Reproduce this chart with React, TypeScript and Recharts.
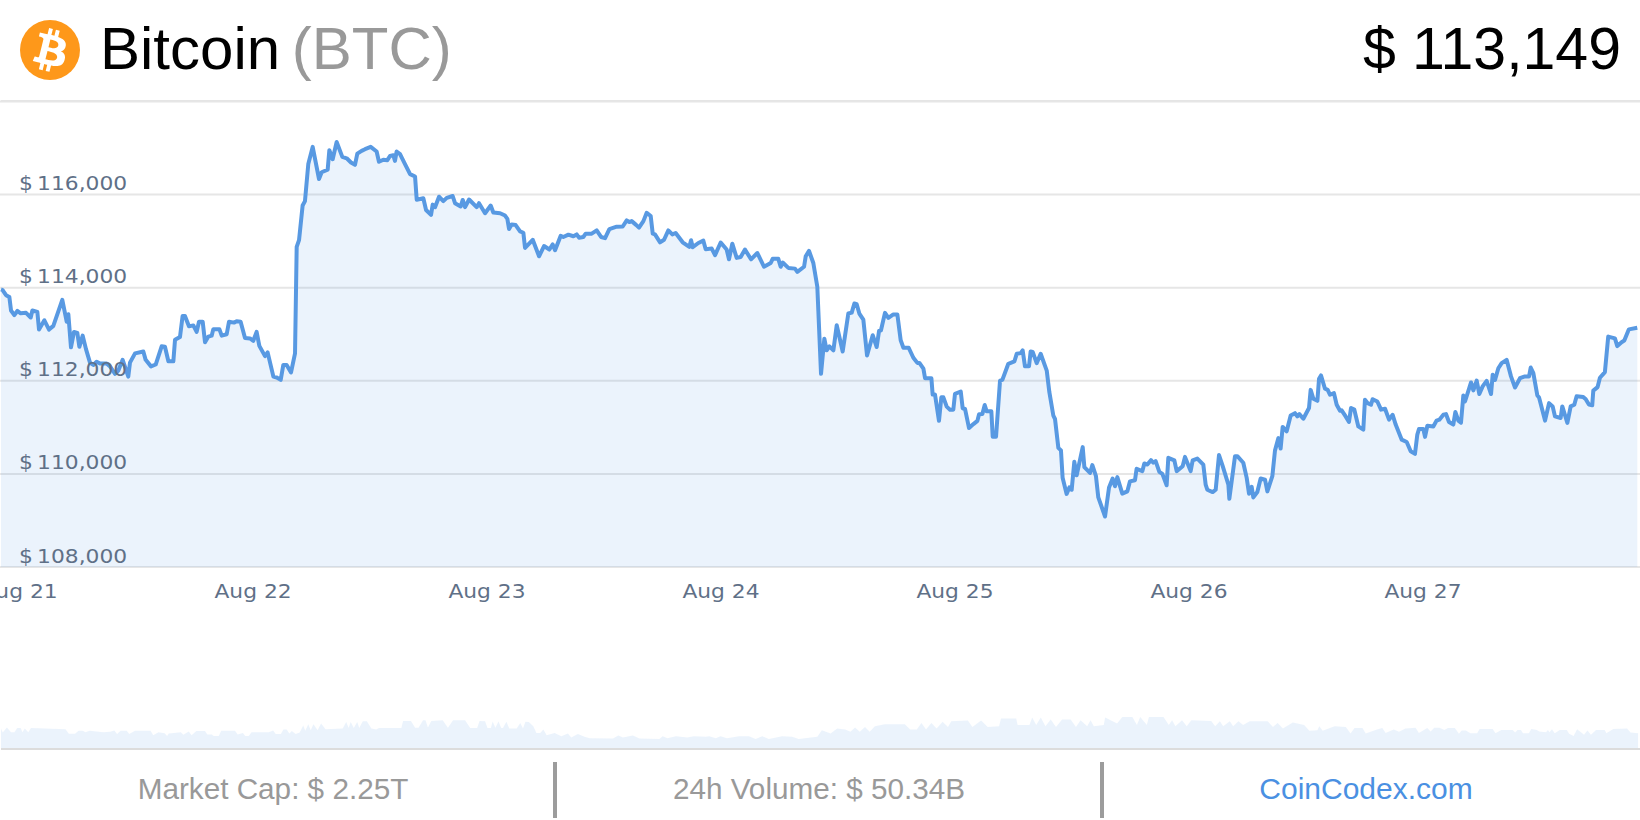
import React from "react";
import { Area, AreaChart, CartesianGrid, XAxis, YAxis } from "recharts";

// [hours since Aug 21 00:00, price in $]
const pricesAug21 = [
  [-1.85, 113963], [-1.68, 113950], [-1.33, 113840], [-0.99, 113800], [-0.82, 113510], [-0.48, 113410], [-0.17, 113500],
  [0.17, 113450], [0.72, 113460], [1.2, 113360], [1.37, 113510], [1.88, 113480], [2.05, 113100], [2.6, 113300],
  [3.08, 113100], [3.52, 113180], [4.44, 113740], [4.89, 113270], [5.06, 113430], [5.33, 112720], [5.64, 113050],
  [5.98, 113030], [6.19, 112730], [6.53, 112970], [6.87, 112680], [7.28, 112390], [7.62, 112340], [7.96, 112410],
  [8.31, 112370], [8.99, 112370], [9.33, 112310], [9.85, 112150], [10.19, 112220], [10.63, 112450], [11.21, 112090],
  [11.38, 112390], [11.9, 112590], [12.75, 112630], [12.99, 112450], [13.54, 112310], [14.02, 112350], [14.63, 112740],
  [14.97, 112730], [15.32, 112420], [15.83, 112420], [16.0, 112880], [16.51, 112940], [16.78, 113390], [17.02, 113390],
  [17.43, 113170], [17.88, 113190], [18.22, 113050], [18.46, 113270], [18.84, 113270], [19.08, 112830], [19.42, 112950],
  [19.76, 112970], [19.93, 113110], [20.55, 113110], [20.79, 112970], [21.3, 113000], [21.54, 113270], [22.05, 113250],
  [22.32, 113280], [22.73, 113270], [23.18, 112920], [23.69, 112910],
];

const pricesAug22 = [
  [24.03, 112860], [24.37, 113050], [24.65, 112750], [25.23, 112530], [25.5, 112610], [26.09, 112090], [26.43, 112070],
  [26.84, 112020], [27.11, 112340], [27.45, 112340], [27.9, 112180], [28.31, 112590], [28.48, 114875], [28.72, 115020],
  [29.09, 115765], [29.33, 115860], [29.67, 116655], [30.12, 117025], [30.77, 116335], [31.04, 116480], [31.66, 116535],
  [31.83, 116955], [32.17, 116760], [32.58, 117130], [33.16, 116810], [33.61, 116780], [34.05, 116690], [34.46, 116640],
  [34.7, 116880], [35.14, 116940], [35.49, 116975], [36.07, 117025], [36.68, 116925], [36.92, 116705], [37.37, 116750],
  [37.78, 116740], [38.05, 116830], [38.39, 116845], [38.56, 116725], [38.73, 116925], [39.08, 116870], [39.59, 116655],
  [40.11, 116440], [40.62, 116390], [40.79, 115890], [41.47, 115920], [41.75, 115670], [42.26, 115565], [42.43, 115785],
  [42.67, 115730], [43.08, 115955], [43.52, 115860], [43.87, 115930], [44.48, 115970], [44.72, 115815], [45.3, 115745],
  [45.51, 115885], [45.75, 115730], [46.16, 115895], [46.94, 115730], [47.18, 115815], [47.8, 115600],
];

const pricesAug23 = [
  [48.38, 115765], [48.65, 115615], [49.34, 115600], [49.85, 115550], [50.09, 115480], [50.26, 115260], [50.53, 115360],
  [50.94, 115345], [51.39, 115210], [51.73, 115180], [51.9, 114855], [52.69, 115030], [53.34, 114675], [53.85, 114895],
  [54.4, 114820], [54.74, 114930], [54.98, 114805], [55.56, 115115], [55.83, 115090], [56.35, 115140], [56.86, 115105],
  [57.2, 115145], [57.44, 115075], [57.88, 115090], [58.12, 115160], [58.74, 115160], [59.25, 115230], [59.7, 115090],
  [60.11, 115065], [60.55, 115260], [61.3, 115310], [61.92, 115315], [62.33, 115445], [62.6, 115410], [62.84, 115430],
  [63.29, 115350], [63.59, 115290], [64.04, 115430], [64.38, 115610], [64.79, 115540], [65.0, 115160], [65.23, 115145],
  [65.75, 114975], [66.16, 115030], [66.6, 115230], [67.01, 115145], [67.35, 115175], [68.07, 114975], [68.75, 114875],
  [68.93, 115020], [69.1, 114870], [69.68, 114960], [70.19, 115010], [70.43, 114825], [71.05, 114840], [71.39, 114700],
];

const pricesAug24 = [
  [71.97, 114970], [72.58, 114820], [72.82, 114610], [73.16, 114945], [73.61, 114640], [74.02, 114660], [74.46, 114820],
  [75.08, 114610], [75.73, 114745], [76.41, 114450], [77.1, 114530], [77.3, 114620], [77.88, 114620], [78.12, 114450],
  [78.33, 114540], [78.91, 114425], [79.59, 114410], [79.83, 114340], [80.52, 114450], [80.69, 114675], [81.03, 114790],
  [81.47, 114530], [81.88, 114020], [82.26, 112150], [82.6, 112905], [82.84, 112655], [83.12, 112740], [83.53, 112655],
  [83.87, 113195], [84.48, 112630], [85.06, 113445], [85.41, 113465], [85.68, 113660], [85.92, 113645], [86.19, 113445],
  [86.6, 113315], [86.98, 112545], [87.56, 112980], [87.97, 112725], [88.21, 113070], [88.41, 113085], [88.82, 113460],
  [89.17, 113350], [89.68, 113425], [90.09, 113425], [90.43, 112870], [90.71, 112710], [91.25, 112710], [91.73, 112495],
  [92.14, 112385], [92.35, 112385], [92.76, 112260], [92.93, 112055], [93.58, 112055], [93.71, 111705], [93.95, 111705],
  [94.36, 111140], [94.6, 111645], [94.81, 111645], [95.15, 111445], [95.49, 111380], [95.83, 111380],
];

const pricesAug25 = [
  [96.0, 111720], [96.59, 111770], [96.79, 111410], [97.03, 111395], [97.44, 110985], [97.89, 111070], [98.3, 111140],
  [98.47, 111280], [98.81, 111285], [99.05, 111480], [99.25, 111345], [99.73, 111345], [99.87, 110800], [100.21, 110800],
  [100.62, 112005], [100.86, 112020], [101.47, 112365], [102.09, 112415], [102.33, 112580], [102.74, 112595],
  [102.94, 112655], [103.18, 112310], [103.59, 112310], [103.76, 112630], [103.97, 112620], [104.38, 112380],
  [104.79, 112580], [105.41, 112220], [105.68, 111755], [106.09, 111250], [106.26, 111180], [106.6, 110560],
  [106.87, 110505], [107.04, 109915], [107.45, 109570], [107.73, 109710], [107.97, 109660], [108.24, 110260],
  [108.48, 109970], [109.1, 110575], [109.27, 110145], [109.85, 110020], [110.09, 110190], [110.46, 109950],
  [110.7, 109495], [111.39, 109085], [111.8, 109710], [112.17, 109900], [112.41, 109735], [112.65, 109930],
  [113.16, 109575], [113.68, 109625], [113.95, 109840], [114.46, 109865], [114.63, 110110], [115.22, 110060],
  [115.42, 110225], [115.73, 110200], [116.1, 110295], [116.34, 110240], [116.58, 110275], [116.96, 110045],
  [117.27, 110000], [117.71, 109755], [117.88, 110345], [118.5, 110290], [118.74, 110060], [119.35, 110165], [119.59, 110365],
];

const pricesAug26 = [
  [120.17, 110060], [120.38, 110290], [120.86, 110330], [121.47, 110200], [121.71, 109770], [121.88, 109660],
  [122.43, 109610], [122.74, 109660], [123.08, 110405], [123.46, 110165], [124.04, 109770], [124.14, 109465],
  [124.72, 110380], [124.96, 110380], [125.57, 110240], [125.92, 109915], [126.16, 109575], [126.43, 109720],
  [126.6, 109495], [127.01, 109610], [127.35, 109900], [127.8, 109875], [128.04, 109625], [128.55, 109950],
  [128.82, 110500], [129.17, 110770], [129.4, 110545], [129.61, 111010], [130.02, 110915], [130.43, 111255],
  [130.87, 111305], [131.11, 111235], [131.32, 111285], [131.73, 111185], [132.31, 111415], [132.48, 111805],
  [132.76, 111615], [133.17, 111570], [133.34, 112045], [133.54, 112115], [133.95, 111830], [134.23, 111805],
  [134.46, 111700], [134.87, 111735], [135.15, 111485], [135.49, 111355], [135.66, 111365], [136.07, 111235],
  [136.41, 111115], [136.62, 111415], [136.96, 111380], [137.37, 111020], [137.88, 110950], [138.05, 111595],
  [138.33, 111520], [138.67, 111485], [138.84, 111605], [139.32, 111555], [139.7, 111380], [140.11, 111400],
  [140.52, 111165], [140.89, 111270], [141.2, 111060], [141.82, 110735], [142.33, 110685], [142.74, 110485], [143.18, 110430],
  [143.42, 110845], [143.59, 110965],
];

const pricesAug27 = [
  [144.04, 110965], [144.21, 110795], [144.45, 111035], [145.06, 111020], [145.4, 111145], [145.68, 111165],
  [146.09, 111270], [146.36, 111285], [146.67, 111115], [147.11, 111060], [147.32, 111330], [147.63, 111145],
  [147.9, 111100], [148.14, 111685], [148.31, 111555], [148.93, 111965], [149.17, 111795], [149.51, 112005],
  [149.78, 111715], [150.12, 111880], [150.53, 112000], [150.98, 111715], [151.15, 112130], [151.39, 112020],
  [151.73, 112270], [152.07, 112380], [152.58, 112450], [153.03, 112095], [153.44, 111855], [153.95, 112055],
  [154.46, 112095], [154.88, 112095], [155.05, 112285], [155.32, 112165], [155.73, 111685], [155.9, 111645],
  [156.52, 111145], [156.93, 111520], [157.3, 111450], [157.54, 111235], [158.12, 111200], [158.29, 111450],
  [158.81, 111095], [159.15, 111450], [159.52, 111485], [159.76, 111670], [160.44, 111650], [160.68, 111610],
  [161.02, 111490], [161.36, 111475], [161.47, 111790], [161.91, 111865], [162.15, 112065], [162.66, 112185],
  [163.0, 112950], [163.69, 112910], [163.93, 112745], [164.37, 112830], [164.65, 112865], [165.12, 113105], [165.98, 113140],
];

// [hours since Aug 21 00:00, 24h volume in $B]
const volumesAug21to22 = [
  [-1.85, 67], [-1.67, 53], [-1.24, 70], [-0.82, 54], [-0.47, 54], [-0.18, 68], [0.17, 68], [0.35, 54], [0.59, 67],
  [0.95, 54], [1.23, 68], [4.76, 64], [5.12, 49], [5.75, 49], [6.11, 59], [6.53, 59], [6.81, 54], [7.24, 59], [8.65, 54],
  [9.36, 56], [9.78, 60], [10.06, 48], [10.42, 59], [11.05, 59], [11.3, 48], [11.9, 59], [13.49, 59], [13.77, 44],
  [14.3, 54], [14.94, 51], [15.19, 42], [15.36, 50], [15.89, 52], [16.6, 54], [16.85, 46], [17.41, 57], [17.7, 44],
  [18.19, 58], [19.07, 58], [19.32, 47], [19.78, 47], [19.96, 42], [20.49, 42], [20.74, 59], [22.15, 59], [22.43, 47],
  [22.96, 52], [23.21, 42], [23.56, 42], [23.85, 54], [25.61, 54], [26.07, 60], [26.32, 48], [26.85, 48], [27.13, 63],
  [27.45, 63], [27.73, 50], [27.98, 58], [28.37, 48], [28.79, 53], [29.15, 77], [29.36, 59], [29.67, 81], [29.92, 61],
  [30.2, 81], [30.63, 61], [30.98, 83], [31.44, 64], [33.2, 67], [33.56, 88], [33.81, 68], [34.02, 88], [34.34, 68],
  [34.69, 88], [34.9, 68], [35.26, 91], [35.68, 91], [36.14, 67], [36.64, 63], [36.92, 68], [39.22, 68], [39.39, 92],
  [40.2, 92], [40.63, 69], [40.98, 69], [41.44, 94], [41.69, 94], [41.94, 70], [42.29, 92], [43.46, 94], [43.99, 69],
  [44.52, 94], [45.75, 94], [46.28, 68], [46.99, 68], [47.24, 92], [47.8, 91],
];

const volumesAug23to24 = [
  [48.05, 68], [48.4, 68], [48.58, 90], [48.86, 69], [49.18, 90], [49.46, 68], [49.64, 68], [49.99, 89], [50.28, 67],
  [51.05, 67], [51.41, 85], [51.69, 67], [51.94, 89], [52.29, 88], [52.75, 74], [53.07, 52], [53.46, 52], [53.78, 63],
  [54.12, 44], [54.94, 52], [55.62, 41], [56.3, 50], [56.64, 37], [57.32, 48], [58.0, 39], [58.54, 34], [60.92, 33],
  [61.47, 43], [61.94, 37], [62.96, 43], [63.64, 33], [65.68, 32], [66.02, 41], [66.5, 34], [67.39, 41], [68.54, 37],
  [69.22, 41], [70.45, 39], [70.79, 41], [71.47, 34], [71.94, 41], [72.62, 34], [73.85, 41], [74.87, 41], [75.55, 32],
  [76.23, 41], [76.91, 32], [78.27, 41], [79.29, 39], [79.97, 32], [81.88, 39], [82.35, 61], [83.24, 50], [83.92, 67],
  [84.73, 63], [85.28, 56], [85.75, 70], [86.23, 56], [86.77, 72], [87.25, 56], [87.79, 74], [88.81, 81], [90.86, 81],
  [91.4, 63], [92.08, 63], [92.56, 85], [93.03, 63], [93.58, 85], [94.12, 67], [94.73, 89], [95.28, 72], [95.62, 91],
];

const volumesAug25to27 = [
  [97.32, 93], [97.79, 72], [98.68, 93], [99.36, 72], [100.52, 74], [100.72, 100], [102.28, 100], [102.42, 78],
  [103.64, 78], [103.92, 103], [104.33, 78], [104.8, 103], [105.28, 74], [105.82, 97], [106.36, 72], [106.98, 97],
  [107.86, 97], [108.41, 72], [108.88, 94], [109.56, 74], [109.9, 94], [110.24, 74], [111.26, 78], [111.4, 103],
  [112.62, 83], [113.17, 105], [114.19, 105], [114.66, 78], [115.0, 105], [115.68, 78], [115.89, 105], [117.39, 105],
  [117.93, 78], [118.27, 94], [118.61, 74], [119.29, 94], [119.77, 74], [120.24, 94], [122.28, 92], [122.69, 74],
  [123.17, 91], [123.51, 74], [124.19, 91], [124.53, 74], [125.07, 91], [125.55, 78], [126.23, 91], [128.07, 91],
  [128.61, 72], [129.09, 85], [129.63, 67], [130.65, 87], [131.81, 78], [132.35, 59], [133.17, 61], [133.37, 74],
  [133.71, 59], [134.94, 74], [136.09, 72], [136.57, 50], [136.98, 68], [137.79, 68], [138.13, 50], [139.29, 63],
  [139.83, 68], [140.17, 52], [141.0, 63], [141.54, 56], [142.22, 67], [143.24, 69], [143.58, 52], [144.44, 68],
  [144.79, 57], [145.15, 69], [145.68, 69], [146.2, 62], [146.56, 68], [147.27, 68], [147.69, 49], [147.97, 60],
  [148.4, 60], [148.86, 51], [149.56, 51], [149.81, 65], [151.15, 65], [151.44, 51], [152.04, 62], [153.2, 62],
  [153.45, 53], [153.7, 62], [154.05, 62], [154.26, 51], [154.86, 51], [155.11, 65], [155.68, 62], [155.92, 57],
  [156.63, 54], [156.81, 62], [156.98, 54], [157.23, 64], [157.51, 51], [158.04, 62], [158.75, 62], [158.99, 49],
  [159.45, 42], [159.81, 64], [160.52, 46], [160.87, 60], [161.23, 46], [161.75, 62], [162.64, 62], [162.81, 51],
  [163.52, 65], [164.93, 67], [165.29, 53], [166.06, 51],
];

const priceTicks = [108000, 110000, 112000, 114000, 116000];
const dayTicks = [0, 24, 48, 72, 96, 120, 144];
const dayLabels = ["Aug 21", "Aug 22", "Aug 23", "Aug 24", "Aug 25", "Aug 26", "Aug 27"];

const priceData = [
  ...pricesAug21, ...pricesAug22, ...pricesAug23, ...pricesAug24, ...pricesAug25, ...pricesAug26, ...pricesAug27,
].map(([hour, price]) => ({ hour, price }));

const volumeData = [...volumesAug21to22, ...volumesAug23to24, ...volumesAug25to27].map(([hour, volume]) => ({ hour, volume }));

const hourDomain = [-1.95, 166.26];
const axisFont = { fontFamily: "DejaVu Sans", fontSize: 20, fill: "#5f7087" };
const textFont = "'Liberation Sans', Arial, sans-serif";

// the original labels are a bit wider than the font, hence the scale
const PriceTick = ({ y, payload }: any) => (
  <text transform={`translate(19 ${y - 4.5}) scale(1.09 1)`} style={{ ...axisFont, wordSpacing: -2.5 }}>
    {"$ " + payload.value.toLocaleString("en-US")}
  </text>
);

const DayTick = ({ x, payload }: any) => (
  <text transform={`translate(${x} 597.5) scale(1.09 1)`} textAnchor="middle" style={axisFont}>
    {dayLabels[dayTicks.indexOf(payload.value)]}
  </text>
);

const BitcoinIcon = () => (
  <svg width={60} height={60} viewBox="0 0 32 32" style={{ position: "absolute", left: 20, top: 20 }}>
    <circle cx={16} cy={16} r={16} fill="#fe981a" />
    <path
      fill="#fff"
      transform="translate(16 16) scale(1.17) translate(-16 -16)"
      d="M23.189 14.02c.314-2.096-1.283-3.223-3.465-3.975l.708-2.84-1.728-.43-.69 2.765c-.454-.114-.92-.22-1.385-.326l.695-2.783L15.596 6l-.708 2.839c-.376-.086-.746-.17-1.104-.26l.002-.009-2.384-.595-.46 1.846s1.283.294 1.256.312c.7.175.826.638.805 1.006l-.806 3.235c.048.012.11.03.18.057l-.183-.045-1.13 4.532c-.086.212-.303.531-.793.41.018.025-1.256-.313-1.256-.313l-.858 1.978 2.25.561c.418.105.828.215 1.231.318l-.715 2.872 1.727.43.708-2.84c.472.127.93.245 1.378.357l-.706 2.828 1.728.43.715-2.866c2.948.558 5.164.333 6.097-2.333.752-2.146-.037-3.385-1.588-4.192 1.13-.26 1.98-1.003 2.207-2.538zm-3.95 5.538c-.533 2.147-4.148.986-5.32.695l.95-3.805c1.172.293 4.929.872 4.37 3.11zm.535-5.569c-.487 1.953-3.495.96-4.47.717l.86-3.45c.975.243 4.118.696 3.61 2.733z"
    />
  </svg>
);

const footerCell = (center: number, color: string, fontSize: number): React.CSSProperties => ({
  position: "absolute",
  left: center - 270,
  width: 540,
  top: 769,
  textAlign: "center",
  fontFamily: textFont,
  fontSize,
  lineHeight: "40px",
  color,
});

const separator = (left: number): React.CSSProperties => ({
  position: "absolute",
  left,
  top: 762,
  width: 4,
  height: 56,
  background: "#9c9c9c",
});

export default function App() {
  return (
    <div style={{ position: "absolute", left: 0, top: 0, width: 1640, height: 820, overflow: "hidden", background: "#fff" }}>
      <BitcoinIcon />
      <div style={{ position: "absolute", left: 100, top: 19, fontFamily: textFont, fontSize: 60, lineHeight: "60px", whiteSpace: "nowrap", wordSpacing: -5 }}>
        <span style={{ color: "#000" }}>Bitcoin</span> <span style={{ color: "#999" }}>(BTC)</span>
      </div>
      <div style={{ position: "absolute", right: 19, top: 19, fontFamily: textFont, fontSize: 59, lineHeight: "60px", color: "#000", whiteSpace: "nowrap" }}>
        $ 113,149
      </div>
      <div style={{ position: "absolute", left: 1, top: 100, width: 1639, height: 2, background: "#e4e4e4" }} />

      <div style={{ position: "absolute", left: 0, top: 0 }}>
        <AreaChart width={1640} height={620} data={priceData} margin={{ top: 101.5, right: 0, bottom: 0, left: 0 }}>
          <CartesianGrid vertical={false} stroke="#e6e6e6" strokeWidth={2} />
          <XAxis
            dataKey="hour"
            type="number"
            domain={hourDomain}
            ticks={dayTicks}
            interval={0}
            height={53}
            axisLine={false}
            tickLine={false}
            tick={DayTick}
            allowDataOverflow
          />
          <Area
            dataKey="price"
            type="linear"
            stroke="#5899e2"
            strokeWidth={4}
            strokeLinejoin="round"
            fill="#3a86e6"
            fillOpacity={0.1}
            dot={false}
            activeDot={false}
            isAnimationActive={false}
          />
          <YAxis
            type="number"
            domain={[108000, 118000]}
            ticks={priceTicks}
            interval={0}
            mirror
            width={130}
            axisLine={false}
            tickLine={false}
            tick={PriceTick}
          />
        </AreaChart>
      </div>

      <div style={{ position: "absolute", left: 0, top: 700 }}>
        <AreaChart width={1640} height={50} data={volumeData} margin={{ top: 12.5, right: 0, bottom: 1.5, left: 0 }}>
          <XAxis dataKey="hour" type="number" domain={hourDomain} hide allowDataOverflow />
          <YAxis type="number" domain={[0, 120]} hide />
          <Area dataKey="volume" type="linear" stroke="none" fill="#3a86e6" fillOpacity={0.1} dot={false} activeDot={false} isAnimationActive={false} />
        </AreaChart>
      </div>
      <div style={{ position: "absolute", left: 1, top: 748, width: 1639, height: 2, background: "#dcdcdc" }} />

      <div style={footerCell(273, "#999", 29.7)}>Market Cap: $ 2.25T</div>
      <div style={separator(553)} />
      <div style={footerCell(819, "#999", 29.7)}>24h Volume: $ 50.34B</div>
      <div style={separator(1100)} />
      <div style={footerCell(1366, "#4a90e2", 30)}>CoinCodex.com</div>
    </div>
  );
}
